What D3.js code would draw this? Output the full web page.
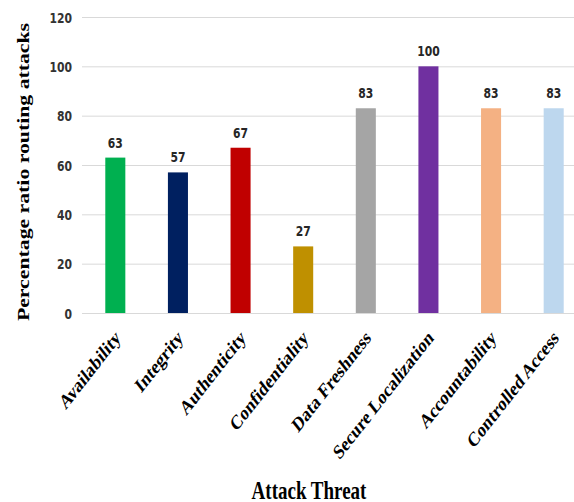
<!DOCTYPE html>
<html><head><meta charset="utf-8">
<script src="https://cdn.jsdelivr.net/npm/d3@7"></script>
<style>body{margin:0;background:#fff}</style>
</head><body>
<script>
const categories = ["Availability","Integrity","Authenticity","Confidentiality","Data Freshness","Secure Localization","Accountability","Controlled Access"];
const values = [63,57,67,27,83,100,83,83];
const colors = ["#00b050","#002060","#c00000","#bf9000","#a5a5a5","#7030a0","#f4b183","#bdd7ee"];
const yTicks = [0,20,40,60,80,100,120];

const W=574,H=502, SY=1.28;
const svg=d3.select("body").append("svg").attr("width",W).attr("height",H);
const x=d3.scaleBand().domain(categories).range([84,585]).paddingInner(0.68).paddingOuter(0.34);
const y=d3.scaleLinear().domain([0,120]).range([313,17]);
const numFont="'Liberation Sans Narrow','DejaVu Sans Condensed',sans-serif";

const ya=svg.append("g").attr("transform","translate(82,0)")
  .call(d3.axisLeft(y).tickValues(yTicks).tickSize(-492).tickPadding(10));
ya.select(".domain").remove();
ya.selectAll(".tick line").attr("stroke","#d9d9d9");
ya.selectAll(".tick text").attr("fill","#333").attr("font-family",numFont)
  .attr("font-weight","bold").attr("font-size",12)
  .attr("dy",null).attr("transform","translate(0,5) scale(1,1.2)").attr("y",0);

svg.selectAll("rect.bar").data(values).enter().append("rect")
  .attr("x",(d,i)=>x(categories[i])).attr("width",x.bandwidth())
  .attr("y",d=>y(d)).attr("height",d=>y(0)-y(d)).attr("fill",(d,i)=>colors[i]);

svg.selectAll("text.val").data(values).enter().append("text")
  .attr("transform",(d,i)=>`translate(${x(categories[i])+x.bandwidth()/2},${y(d)-10}) scale(1,1.2)`)
  .attr("text-anchor","middle").attr("fill","#262626")
  .attr("font-family",numFont).attr("font-weight","bold").attr("font-size",12)
  .text(d=>d);

svg.selectAll("text.cat").data(categories).enter().append("text")
  .attr("transform",d=>`translate(${x(d)+x.bandwidth()/2+6},${339}) scale(1,${SY}) rotate(-45)`)
  .attr("text-anchor","end").attr("font-family","'Liberation Serif',serif").attr("font-weight","bold").attr("font-size",16)
  .attr("fill","#000").text(d=>d);

svg.append("text").attr("transform",`translate(29,172) scale(1,${SY}) rotate(-90)`).attr("text-anchor","middle")
  .attr("font-family","'Liberation Serif',serif").attr("font-weight","bold").attr("font-size",17).text("Percentage ratio routing attacks");

svg.append("text").attr("transform",`translate(309,499) scale(1,${SY})`).attr("text-anchor","middle")
  .attr("font-family","'Liberation Serif',serif").attr("font-weight","bold").attr("font-size",19).text("Attack Threat");
</script>
</body></html>
